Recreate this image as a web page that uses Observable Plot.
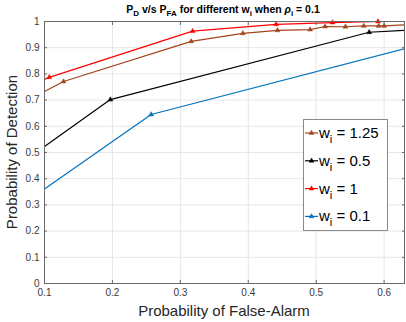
<!DOCTYPE html>
<html><head><meta charset="utf-8">
<script src="https://cdn.jsdelivr.net/npm/d3@7"></script>
<script src="https://cdn.jsdelivr.net/npm/@observablehq/plot@0.6"></script>
<style>html,body{margin:0;padding:0;background:#fff} svg{display:block}</style>
</head><body><div id="chart"></div>
<script>
// Series (legend order)
const seriesKeys = ["w125", "w05", "w1", "w01"];
const seriesValues = ["1.25", "0.5", "1", "0.1"];
const seriesColors = ["#a5441c", "#000000", "#ff0000", "#0072bd"];

// w_i = 1.25 (first/last values are where the line meets the axes edges)
const pfa_w125 = [0.1, 0.128, 0.316, 0.392, 0.443, 0.491, 0.513, 0.543, 0.570, 0.592, 0.600, 0.63];
const pd_w125  = [0.733, 0.771, 0.924, 0.955, 0.966, 0.969, 0.981, 0.980, 0.983, 0.983, 0.983, 0.987];
// w_i = 0.5
const pfa_w05 = [0.1, 0.197, 0.578, 0.63];
const pd_w05  = [0.523, 0.702, 0.959, 0.966];
// w_i = 1
const pfa_w1 = [0.1, 0.107, 0.318, 0.441, 0.524, 0.591, 0.63];
const pd_w1  = [0.779, 0.787, 0.963, 0.989, 0.996, 1.0, 1.0];
// w_i = 0.1
const pfa_w01 = [0.1, 0.257, 0.63];
const pd_w01  = [0.361, 0.645, 0.896];

const xTicks = [0.1, 0.2, 0.3, 0.4, 0.5, 0.6];
const xTickLabels = ["0.1", "0.2", "0.3", "0.4", "0.5", "0.6"];
const yTicks = [0, 0.1, 0.2, 0.3, 0.4, 0.5, 0.6, 0.7, 0.8, 0.9, 1];
const yTickLabels = ["0", "0.1", "0.2", "0.3", "0.4", "0.5", "0.6", "0.7", "0.8", "0.9", "1"];

const xs = {w125: pfa_w125, w05: pfa_w05, w1: pfa_w1, w01: pfa_w01};
const ys = {w125: pd_w125, w05: pd_w05, w1: pd_w1, w01: pd_w01};
const drawOrder = ["w01", "w05", "w125", "w1"];
const rows = [];
for (const k of drawOrder) {
  const X = xs[k], Y = ys[k];
  X.forEach((x, i) => rows.push({series: k, x, y: Y[i], marker: i > 0 && i < X.length - 1}));
}
const markerRows = rows.filter(d => d.marker);

const W = 406, H = 322;
const FONT = "'Liberation Sans', Arial, Helvetica, sans-serif";

const chart = Plot.plot({
  width: W, height: H,
  marginLeft: 44, marginRight: 2, marginTop: 21, marginBottom: 39,
  style: {fontFamily: FONT, background: "#fff", overflow: "visible"},
  x: {domain: [0.1, 0.63]},
  y: {domain: [0, 1]},
  color: {domain: seriesKeys, range: seriesColors},
  marks: [
    Plot.gridX(xTicks, {stroke: "#e6e6e6", strokeOpacity: 1}),
    Plot.gridY(yTicks, {stroke: "#e6e6e6", strokeOpacity: 1}),
    Plot.line(rows, {x: "x", y: "y", z: "series", stroke: "series", strokeWidth: 1.2, clip: true}),
    Plot.dot(markerRows, {x: "x", y: "y", fill: "series", stroke: "series", strokeWidth: 0.5, symbol: "triangle", r: 1.8}),
    Plot.frame({stroke: "#6a6a6a", strokeWidth: 1}),
    Plot.axisX(xTicks, {anchor: "bottom", tickSize: -3, tickPadding: 8, stroke: "#6a6a6a",
      tickFormat: (d, i) => xTickLabels[i], fill: "#3a3a3a", fontSize: 10, label: null}),
    Plot.axisX(xTicks, {anchor: "top", tickSize: -3, stroke: "#6a6a6a", tickFormat: () => "", label: null}),
    Plot.axisY(yTicks, {anchor: "left", tickSize: -3, tickPadding: 8, stroke: "#6a6a6a",
      tickFormat: (d, i) => yTickLabels[i], fill: "#3a3a3a", fontSize: 10, label: null}),
    Plot.axisY(yTicks, {anchor: "right", tickSize: -3, stroke: "#6a6a6a", tickFormat: () => "", label: null})
  ]
});
document.getElementById("chart").appendChild(chart);

const svg = d3.select(chart);
// Title
const title = svg.append("text").attr("x", 223).attr("y", 13).attr("text-anchor", "middle")
  .attr("font-family", FONT).attr("font-size", 10.5).attr("font-weight", "bold").attr("fill", "#000");
function seg(t, txt, opts = {}) {
  const s = t.append("tspan").text(txt);
  if (opts.sub) s.attr("font-size", opts.size || 8).attr("dy", opts.dy || 3);
  if (opts.back) s.attr("dy", -(opts.back));
  if (opts.italic) s.attr("font-style", "italic");
  return s;
}
seg(title, "P");
seg(title, "D", {sub: true});
seg(title, " v/s P", {back: 3});
seg(title, "FA", {sub: true});
seg(title, " for different w", {back: 3});
seg(title, "i", {sub: true});
seg(title, " when ", {back: 3});
seg(title, "ρ", {italic: true});
seg(title, "i", {sub: true});
seg(title, " = 0.1", {back: 3});

// Axis labels
svg.append("text").attr("x", 224).attr("y", 316).attr("text-anchor", "middle")
  .attr("font-family", FONT).attr("font-size", 15).attr("fill", "#262626").text("Probability of False-Alarm");
svg.append("text").attr("transform", "translate(17,152) rotate(-90)").attr("text-anchor", "middle")
  .attr("font-family", FONT).attr("font-size", 15).attr("fill", "#262626").text("Probability of Detection");

// Legend
const lg = svg.append("g").attr("text-anchor", "start");
lg.append("rect").attr("x", 303.5).attr("y", 119.5).attr("width", 84).attr("height", 111)
  .attr("fill", "#fff").attr("stroke", "#8a8a8a").attr("stroke-width", 1);
const legendOrder = ["w125", "w05", "w1", "w01"];
const tri = d3.symbol(d3.symbolTriangle, 10)();
legendOrder.forEach((k, i) => {
  const idx = seriesKeys.indexOf(k);
  const cy = 133 + i * 27.8;
  const c = seriesColors[idx];
  lg.append("line").attr("x1", 305).attr("x2", 318).attr("y1", cy).attr("y2", cy)
    .attr("stroke", c).attr("stroke-width", 1.2);
  lg.append("path").attr("d", tri).attr("transform", `translate(311.5,${cy})`).attr("fill", c).attr("stroke", c).attr("stroke-width", 0.5);
  const t = lg.append("text").attr("x", 319).attr("y", cy + 5).attr("font-family", FONT)
    .attr("text-anchor", "start").attr("font-size", 15).attr("fill", "#000");
  t.append("tspan").text("w");
  t.append("tspan").text("i").attr("font-size", 11).attr("dy", 5);
  t.append("tspan").text(" = " + seriesValues[idx]).attr("dy", -5);
});
</script>
</body></html>
